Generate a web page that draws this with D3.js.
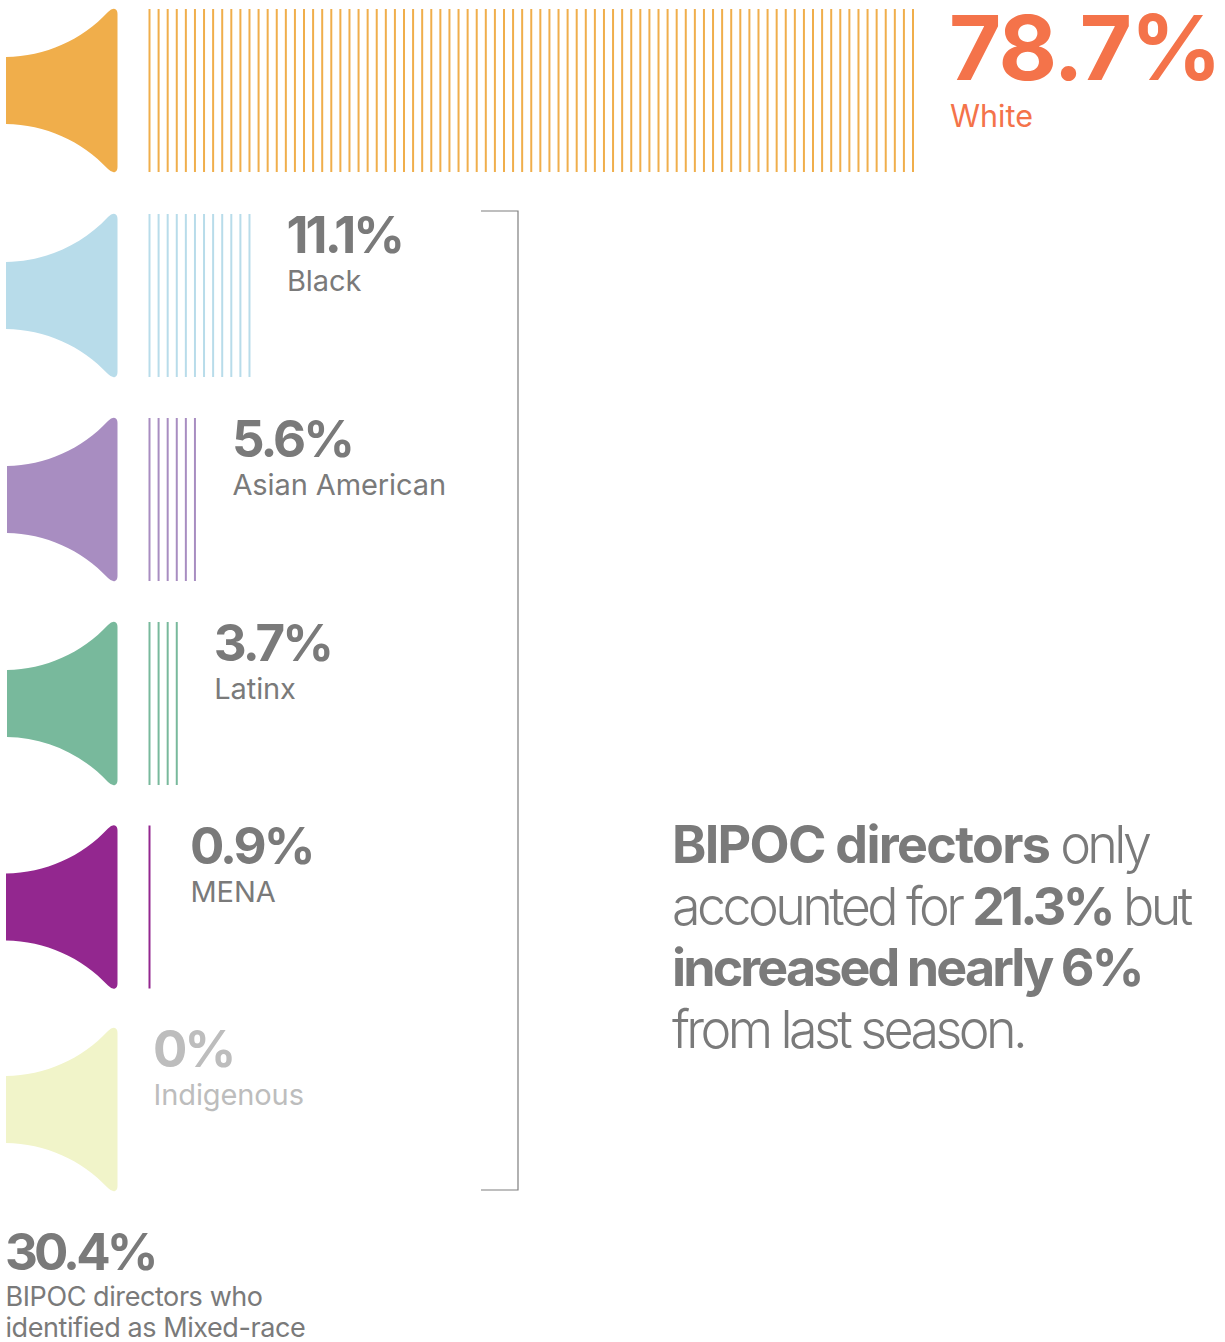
<!DOCTYPE html>
<html><head><meta charset="utf-8">
<script src="https://cdn.jsdelivr.net/npm/d3@7"></script>
<style>html,body{margin:0;padding:0;background:#fff}svg{display:block}text{font-family:Inter,"Noto Sans",sans-serif}</style>
</head><body><svg id="c" width="1225" height="1342"></svg>
<script>
const categories=["White","Black","Asian American","Latinx","MENA","Indigenous"];
const shares=["78.7%","11.1%","5.6%","3.7%","0.9%","0%"];
const directorCounts=[85,12,6,4,1,0];
const colors=["#f0ae4b","#b8dcea","#a88dc1","#78b99c","#93278f","#f1f4c9"];
const labelColors=["#f4734a","#7a7a7a","#7a7a7a","#7a7a7a","#7a7a7a","#bdbdbd"];
const noteLines=[[["BIPOC directors",1],[" only",0]],[["accounted for ",0],["21.3%",1],[" but",0]],[["increased nearly 6%",1]],[["from last season.",0]]];
const boldTrack=[-1.7,-3.6,-2.9,0];
const svg=d3.select("#c");
const y=d3.scaleOrdinal().domain(categories).range([9,214,418,622,825.5,1028]);
const left=d3.scaleOrdinal().domain(categories).range([6,6,7,7,6,6]);
const x=d3.scaleLinear().domain([0,84]).range([149.5,913]);
const rowH=163;
function horn(top,l){
  const p=d3.path();
  p.moveTo(l,top+48);
  p.bezierCurveTo(45,top+47.5,82,top+31,108,top+3);
  p.quadraticCurveTo(112,top-1,115,top);
  p.quadraticCurveTo(117.5,top+1,117.5,top+5);
  p.lineTo(117.5,top+rowH-5);
  p.quadraticCurveTo(117.5,top+rowH-1,115,top+rowH);
  p.quadraticCurveTo(112,top+rowH+1,108,top+rowH-3);
  p.bezierCurveTo(82,top+rowH-31,45,top+rowH-47.5,l,top+rowH-48);
  p.closePath();
  return p.toString();
}
categories.forEach((c,i)=>{
  const top=y(c), n=directorCounts[i];
  const g=svg.append("g");
  g.append("path").attr("d",horn(top,left(c))).attr("fill",colors[i]);
  g.selectAll("line").data(d3.range(n)).join("line")
    .attr("x1",d=>x(d)).attr("x2",d=>x(d)).attr("y1",top).attr("y2",top+rowH)
    .attr("stroke",colors[i]).attr("stroke-width",2);
  const end=n?x(n-1):116;
  const lx=i===0?950:i===4?190.5:end+37.5;
  const big=i===0;
  g.append("text").attr("x",lx-(big?1:0.5)).attr("y",top+(big?71:38.5))
    .attr("font-size",big?90:51).attr("font-weight",700).attr("letter-spacing",big?-1.6:-2.9)
    .attr("fill",labelColors[i]).text(shares[i]);
  g.append("text").attr("x",lx).attr("y",top+(big?117.5:76.5))
    .attr("font-size",big?30.5:29).attr("font-weight",400).attr("letter-spacing",big?0:-0.1)
    .attr("fill",labelColors[i]).text(c);
});
svg.append("path").attr("d",d3.line()([[481,211],[518,211],[518,1190],[481,1190]]))
  .attr("fill","none").attr("stroke","#7f7f7f").attr("stroke-width",1.2);
const s=svg.append("g");
s.append("text").attr("x",5).attr("y",1270).attr("font-size",51).attr("font-weight",700).attr("letter-spacing",-3.9).attr("fill","#7a7a7a").text("30.4%");
["BIPOC directors who","identified as Mixed-race"].forEach((t,i)=>
  s.append("text").attr("x",5.5).attr("y",1306+i*31).attr("font-size",27).attr("letter-spacing",-0.42).attr("fill","#7a7a7a").text(t));
noteLines.forEach((l,i)=>{
  const t=svg.append("text").attr("x",672).attr("y",863+i*61.5).attr("font-size",52).attr("fill","#7a7a7a").attr("xml:space","preserve");
  l.forEach(([w,b])=>t.append("tspan").attr("font-weight",b?700:300).attr("letter-spacing",b?boldTrack[i]:-3.6).text(w));
});
</script></body></html>
